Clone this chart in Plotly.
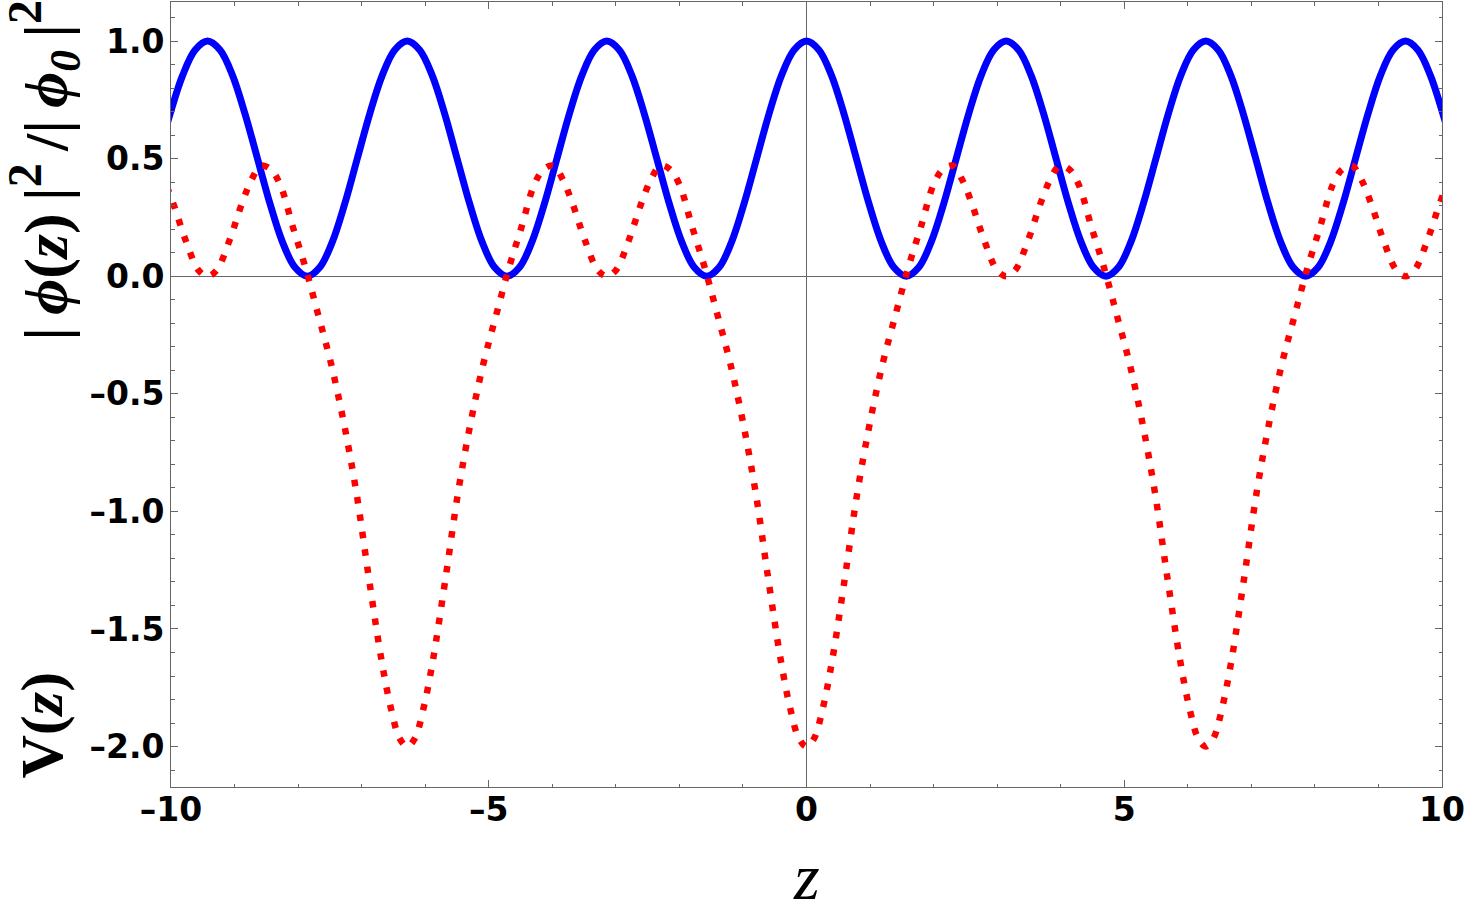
import plotly.graph_objects as go

# |phi(z)|^2/|phi0|^2 (solid blue)
z_phi = [-10.210, -10.014, -9.817, -9.621, -9.425, -9.228, -9.032, -8.836, -8.639, -8.443,
         -8.247, -8.050, -7.854, -7.658, -7.461, -7.265, -7.069, -6.872, -6.676, -6.480,
         -6.283, -6.087, -5.890, -5.694, -5.498, -5.301, -5.105, -4.909, -4.712, -4.516,
         -4.320, -4.123, -3.927, -3.731, -3.534, -3.338, -3.142, -2.945, -2.749, -2.553,
         -2.356, -2.160, -1.963, -1.767, -1.571, -1.374, -1.178, -0.982, -0.785, -0.589,
         -0.393, -0.196, 0.0,
         0.196, 0.393, 0.589, 0.785, 0.982, 1.178, 1.374, 1.571, 1.767, 1.963,
         2.160, 2.356, 2.553, 2.749, 2.945, 3.142, 3.338, 3.534, 3.731, 3.927,
         4.123, 4.320, 4.516, 4.712, 4.909, 5.105, 5.301, 5.498, 5.694, 5.890,
         6.087, 6.283, 6.480, 6.676, 6.872, 7.069, 7.265, 7.461, 7.658, 7.854,
         8.050, 8.247, 8.443, 8.639, 8.836, 9.032, 9.228, 9.425, 9.621, 9.817,
         10.014, 10.210]
phi_sq = [0.5, 0.691, 0.854, 0.962, 1.0, 0.962, 0.854, 0.691, 0.5, 0.309,
          0.146, 0.038, 0.0, 0.038, 0.146, 0.309, 0.5, 0.691, 0.854, 0.962,
          1.0, 0.962, 0.854, 0.691, 0.5, 0.309, 0.146, 0.038, 0.0, 0.038,
          0.146, 0.309, 0.5, 0.691, 0.854, 0.962, 1.0, 0.962, 0.854, 0.691,
          0.5, 0.309, 0.146, 0.038, 0.0, 0.038, 0.146, 0.309, 0.5, 0.691,
          0.854, 0.962, 1.0,
          0.962, 0.854, 0.691, 0.5, 0.309, 0.146, 0.038, 0.0, 0.038, 0.146,
          0.309, 0.5, 0.691, 0.854, 0.962, 1.0, 0.962, 0.854, 0.691, 0.5,
          0.309, 0.146, 0.038, 0.0, 0.038, 0.146, 0.309, 0.5, 0.691, 0.854,
          0.962, 1.0, 0.962, 0.854, 0.691, 0.5, 0.309, 0.146, 0.038, 0.0,
          0.038, 0.146, 0.309, 0.5, 0.691, 0.854, 0.962, 1.0, 0.962, 0.854,
          0.691, 0.5]

# V(z) (dotted red)
z_v = [-10.416, -10.266, -10.116, -9.966, -9.766, -9.566, -9.425,
       -9.283, -9.083, -8.883, -8.733, -8.583, -8.433, -8.283, -8.083, -7.883, -7.683,
       -7.483, -7.283, -7.083, -6.883, -6.683, -6.533, -6.403, -6.283,
       -6.163, -6.033, -5.883, -5.683, -5.483, -5.283, -5.083, -4.883, -4.683, -4.483,
       -4.283, -4.133, -3.983, -3.833, -3.683, -3.483, -3.283, -3.142,
       -3.0, -2.8, -2.6, -2.45, -2.3, -2.15, -2.0, -1.8, -1.6, -1.4,
       -1.2, -1.0, -0.8, -0.6, -0.4, -0.25, -0.12, 0.0,
       0.12, 0.25, 0.4, 0.6, 0.8, 1.0, 1.2, 1.4, 1.6, 1.8,
       2.0, 2.15, 2.3, 2.45, 2.6, 2.8, 3.0, 3.142,
       3.283, 3.483, 3.683, 3.833, 3.983, 4.133, 4.283, 4.483, 4.683, 4.883,
       5.083, 5.283, 5.483, 5.683, 5.883, 6.033, 6.163, 6.283,
       6.403, 6.533, 6.683, 6.883, 7.083, 7.283, 7.483, 7.683, 7.883, 8.083,
       8.283, 8.433, 8.583, 8.733, 8.883, 9.083, 9.283, 9.425,
       9.566, 9.766, 9.966, 10.116, 10.266, 10.416]
v_z = [0.455, 0.47, 0.41, 0.31, 0.15, 0.025, 0.0,
       0.025, 0.15, 0.31, 0.41, 0.47, 0.455, 0.39, 0.21, 0.035, -0.165,
       -0.37, -0.62, -0.92, -1.29, -1.64, -1.845, -1.965, -2.0,
       -1.965, -1.845, -1.64, -1.29, -0.92, -0.62, -0.37, -0.165, 0.035, 0.21,
       0.39, 0.455, 0.47, 0.41, 0.31, 0.15, 0.025, 0.0,
       0.025, 0.15, 0.31, 0.41, 0.47, 0.455, 0.39, 0.21, 0.035, -0.165,
       -0.37, -0.62, -0.92, -1.29, -1.64, -1.845, -1.965, -2.0,
       -1.965, -1.845, -1.64, -1.29, -0.92, -0.62, -0.37, -0.165, 0.035, 0.21,
       0.39, 0.455, 0.47, 0.41, 0.31, 0.15, 0.025, 0.0,
       0.025, 0.15, 0.31, 0.41, 0.47, 0.455, 0.39, 0.21, 0.035, -0.165,
       -0.37, -0.62, -0.92, -1.29, -1.64, -1.845, -1.965, -2.0,
       -1.965, -1.845, -1.64, -1.29, -0.92, -0.62, -0.37, -0.165, 0.035, 0.21,
       0.39, 0.455, 0.47, 0.41, 0.31, 0.15, 0.025, 0.0,
       0.025, 0.15, 0.31, 0.41, 0.47, 0.455]

x_tickvals = [-10, -5, 0, 5, 10]
x_ticktext = ["\u201310", "\u20135", "0", "5", "10"]
y_tickvals = [-2.0, -1.5, -1.0, -0.5, 0.0, 0.5, 1.0]
y_ticktext = ["\u20132.0", "\u20131.5", "\u20131.0", "\u20130.5", "0.0", "0.5", "1.0"]

fig = go.Figure()
fig.add_trace(go.Scatter(x=z_phi, y=phi_sq, mode="lines", line_shape="spline",
                         line=dict(color="#0000ff", width=7),
                         showlegend=False, hoverinfo="skip"))
fig.add_trace(go.Scatter(x=z_v, y=v_z, mode="lines", line_shape="spline",
                         line=dict(color="#ff0000", width=6.5, dash="6.5px,11px"),
                         showlegend=False, hoverinfo="skip"))

axis_common = dict(showline=True, linecolor="#666666", linewidth=1, mirror="ticks",
                   ticks="inside", tickcolor="#666666", ticklen=7, tickwidth=1,
                   showgrid=False, zeroline=True, zerolinecolor="#666666", zerolinewidth=1,
                   tickfont=dict(family="DejaVu Sans", size=33, color="black", weight="bold"),
                   tickmode="array")

fig.update_xaxes(range=[-10, 10], tickvals=x_tickvals, ticktext=x_ticktext,
                 minor=dict(ticks="inside", dtick=1, tick0=0, ticklen=3.5,
                            tickcolor="#666666", tickwidth=1),
                 ticklabelstandoff=-7,
                 **axis_common)
fig.update_yaxes(range=[-2.172, 1.166], tickvals=y_tickvals, ticktext=y_ticktext,
                 minor=dict(ticks="inside", dtick=0.1, tick0=0, ticklen=3.5,
                            tickcolor="#666666", tickwidth=1),
                 ticklabelstandoff=-1,
                 **axis_common)

ts = "\u2009"
sup2 = "<sup><span style='font-size:48px'>2</span></sup>"
phi_label = ("<b>|" + ts + "<i>\u03d5</i>(<i>z</i>)" + ts + "|" + sup2 + ts + "/|" + ts +
             "<i>\u03d5</i><sub><i>0</i></sub>" + ts + "|" + sup2 + "</b>")
fig.add_annotation(xref="x", yref="paper", x=0, y=-0.114, yanchor="middle",
                   text="<i>z</i>", showarrow=False,
                   font=dict(family="Liberation Serif", size=66, color="black"))
fig.add_annotation(xref="paper", yref="paper", x=-0.1015, y=0.0796, xanchor="center",
                   yanchor="middle", textangle=-90,
                   text="<b>V(<i>z</i>)</b>", showarrow=False,
                   font=dict(family="Liberation Serif", size=60, color="black"))
fig.add_annotation(xref="paper", yref="paper", x=-0.0999, y=0.785, xanchor="center",
                   yanchor="middle", textangle=-90,
                   text=phi_label, showarrow=False,
                   font=dict(family="Liberation Serif", size=62, color="black"))

fig.update_layout(width=1467, height=911, plot_bgcolor="white", paper_bgcolor="white",
                  margin=dict(l=171, r=25, t=2, b=124))

fig.write_html("out.html", config={"displayModeBar": False},
               post_script="document.body.style.margin='0';")
